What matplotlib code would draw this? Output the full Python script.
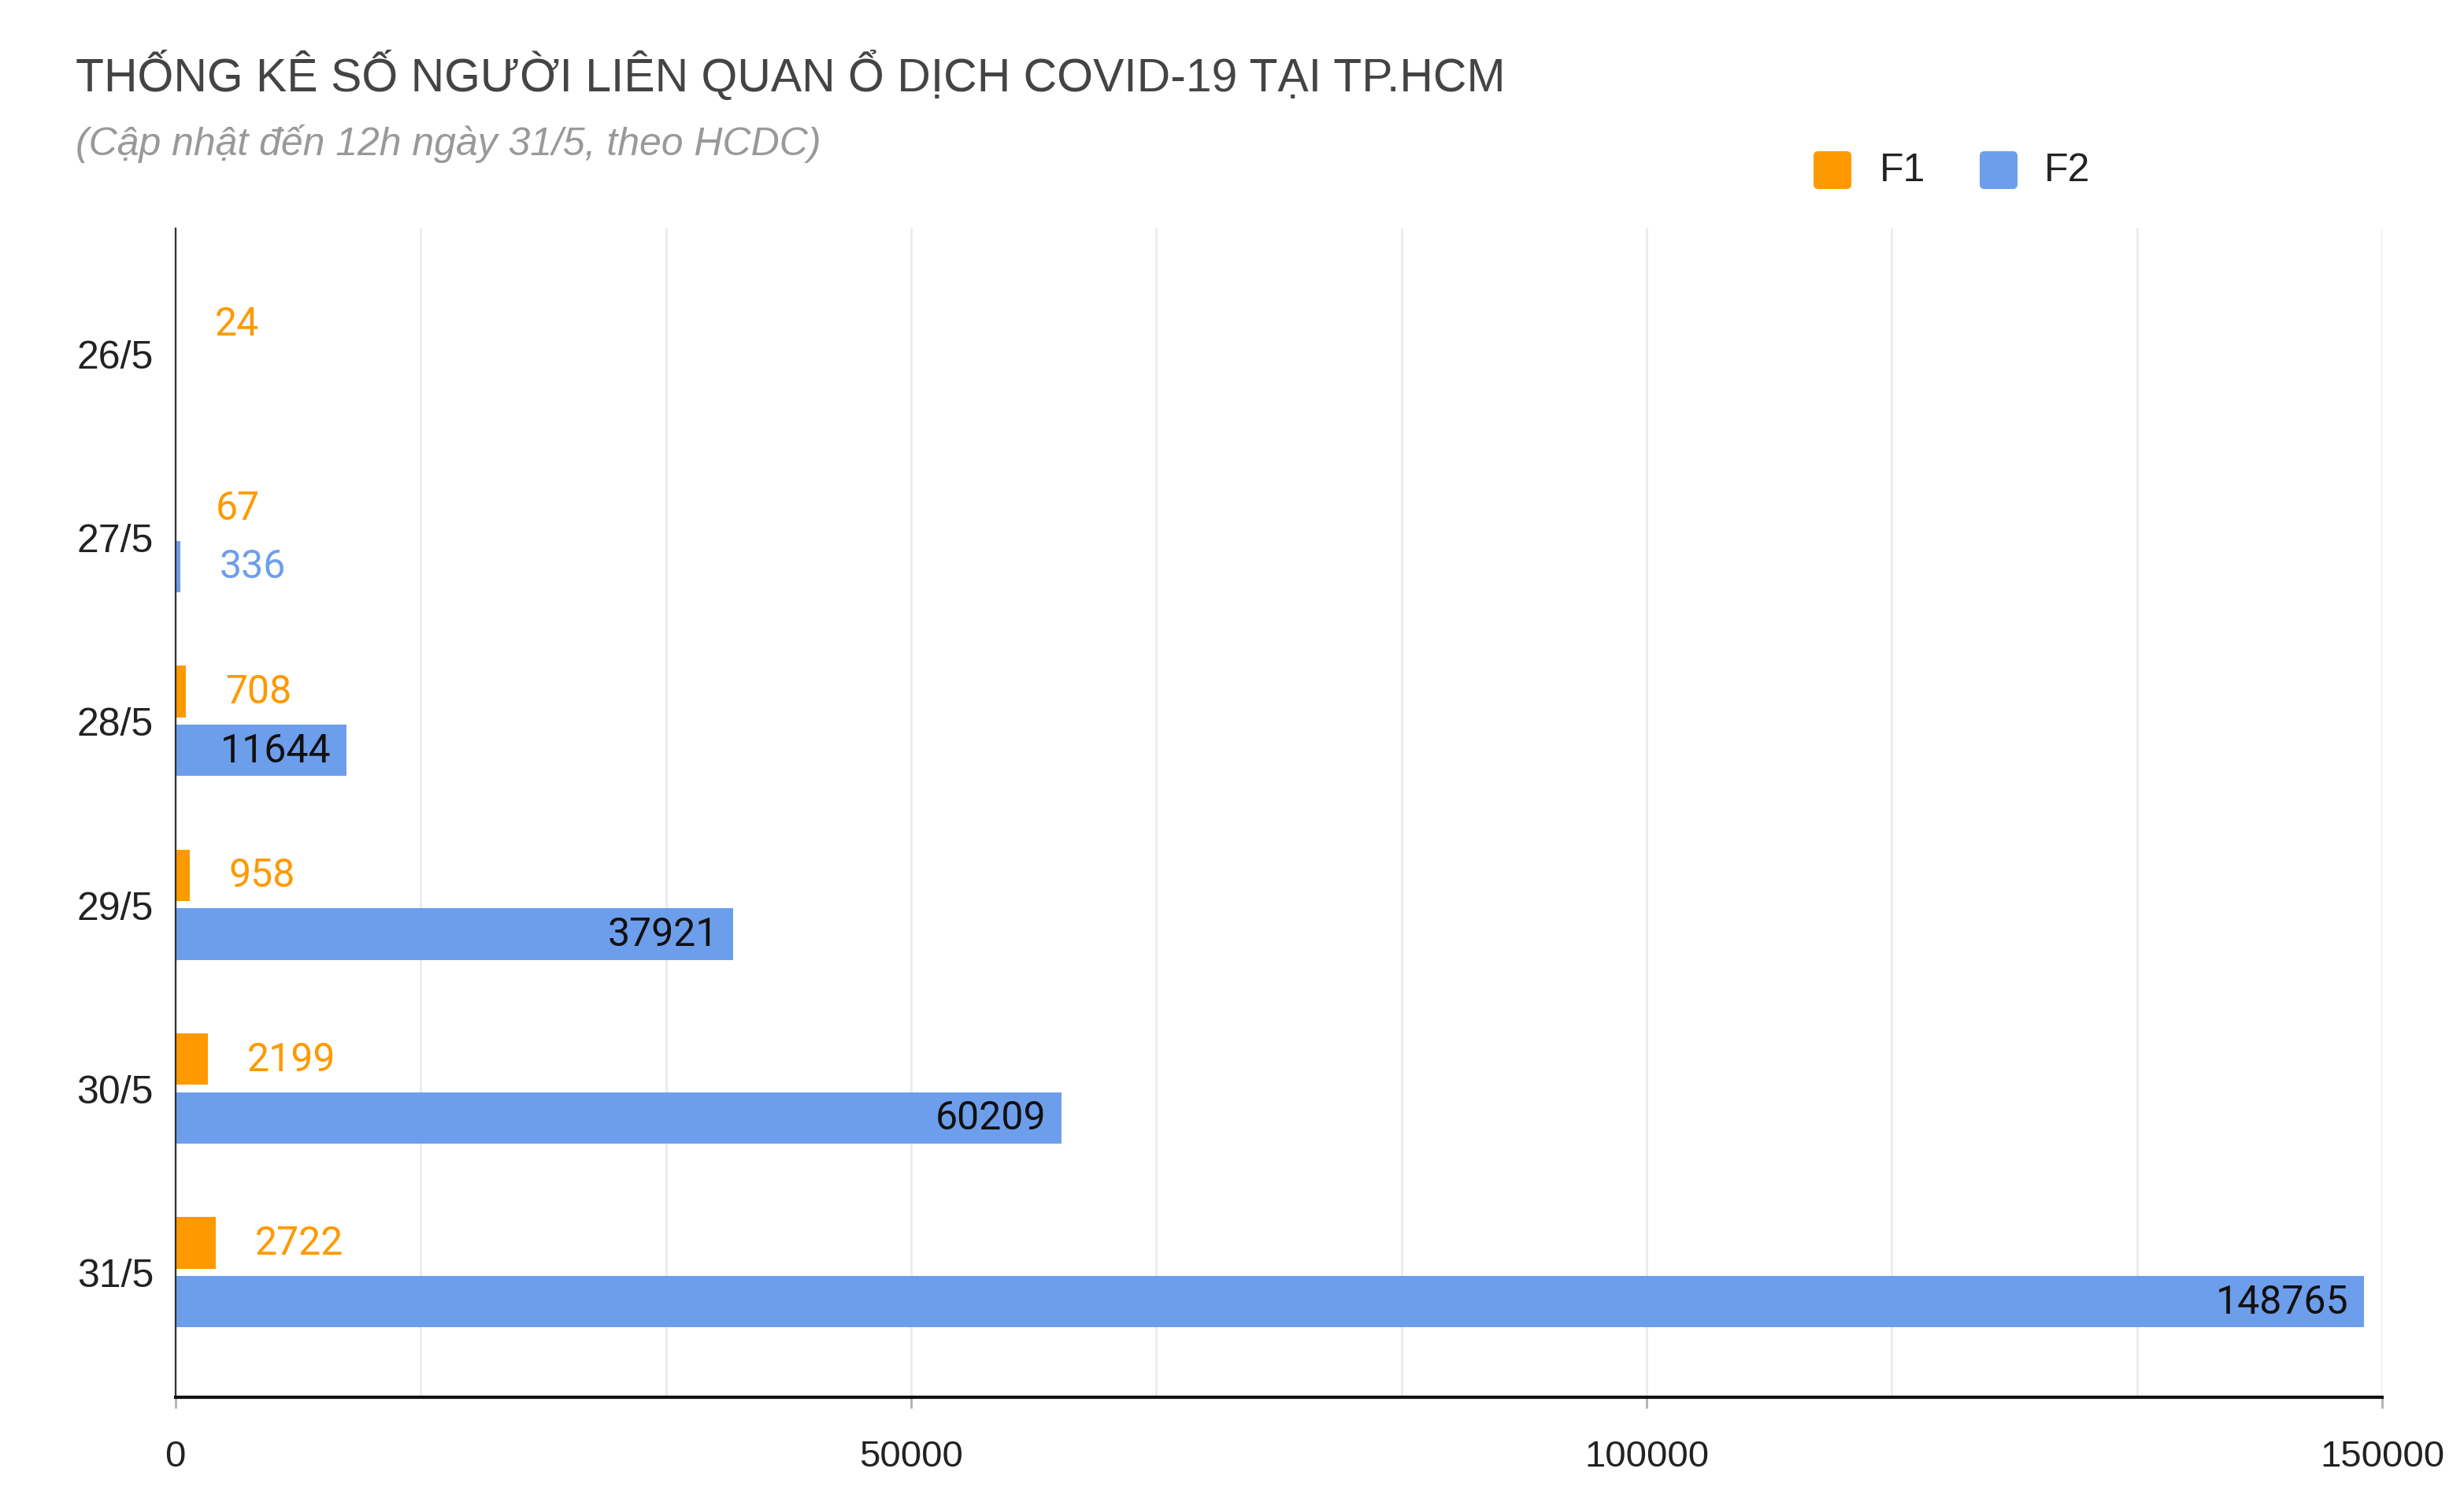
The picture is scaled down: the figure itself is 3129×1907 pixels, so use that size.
import numpy as np
import matplotlib.pyplot as plt
from matplotlib.patches import FancyBboxPatch
from matplotlib.transforms import IdentityTransform
from matplotlib.ticker import MultipleLocator

# Data
days = ['26/5', '27/5', '28/5', '29/5', '30/5', '31/5']
f1_values = [24, 67, 708, 958, 2199, 2722]
f2_values = [np.nan, 336, 11644, 37921, 60209, 148765]
series_names = ['F1', 'F2']

title = 'THỐNG KÊ SỐ NGƯỜI LIÊN QUAN Ổ DỊCH COVID-19 TẠI TP.HCM'
subtitle = '(Cập nhật đến 12h ngày 31/5, theo HCDC)'

ORANGE = '#ff9900'
BLUE = '#6d9eeb'
ARIAL = ['Liberation Sans', 'DejaVu Sans']

plt.rcParams['font.family'] = ARIAL

DPI = 200
fig = plt.figure(figsize=(3129 / DPI, 1908 / DPI), dpi=DPI)
ax = fig.add_axes([0.0712, 0.0697, 0.8956, 0.7778])

y = np.arange(len(days))
h = 0.28
off = 0.16
ax.barh(y - off, f1_values, height=h, color=ORANGE, zorder=3)
ax.barh(y + off, f2_values, height=h, color=BLUE, zorder=3)

ax.set_xlim(0, 150000)
ax.set_ylim(len(days) - 1 + 0.68, -0.68)
ax.set_yticks(y)
ax.set_yticklabels(days)

# grid every 1/3 of a major step
ax.xaxis.set_major_locator(MultipleLocator(50000))
ax.xaxis.set_minor_locator(MultipleLocator(50000 / 3))
ax.grid(axis='x', which='both', color='#ebebeb', linewidth=1.0, zorder=0)
ax.tick_params(axis='x', which='minor', length=0)
ax.tick_params(axis='x', which='major', length=5, width=1, color='#b0b0b0',
               labelsize=17, pad=14, labelcolor='#222222')
ax.tick_params(axis='y', length=0, labelsize=18, pad=10, labelcolor='#222222')

for side in ['top', 'right']:
    ax.spines[side].set_visible(False)
ax.spines['left'].set_color('#333333')
ax.spines['left'].set_linewidth(0.8)
ax.spines['bottom'].set_color('#111111')
ax.spines['bottom'].set_linewidth(1.5)
ax.spines['bottom'].set_zorder(4)
ax.spines['left'].set_zorder(4)

LABEL_FONT = ['Roboto', 'DejaVu Sans']
for i, v in enumerate(f1_values):
    ax.annotate(str(v), (v, i - off), xytext=(18, 0), textcoords='offset points',
                ha='left', va='center', fontsize=18, color=ORANGE,
                family=LABEL_FONT, zorder=5)
for i, v in enumerate(f2_values):
    if np.isnan(v):
        continue
    v = int(v)
    if v > 8000:
        ax.annotate(str(v), (v, i + off), xytext=(-7, 0), textcoords='offset points',
                    ha='right', va='center', fontsize=18, color='#111111',
                    family=LABEL_FONT, zorder=5)
    else:
        ax.annotate(str(v), (v, i + off), xytext=(18, 0), textcoords='offset points',
                    ha='left', va='center', fontsize=18, color=BLUE,
                    family=LABEL_FONT, zorder=5)

fig.text(0.0308, 0.9497, title, fontsize=21.2, color='#444444', ha='left', va='center')
fig.text(0.0308, 0.9043, subtitle, fontsize=18, color='#999999', ha='left',
         va='center', style='italic')

# legend drawn by hand with rounded swatches
sw = 48
for name, color, cx, tx in zip(series_names, [ORANGE, BLUE], [2327, 2538], [2387, 2596]):
    cy = 1908 - 217
    fig.patches.append(FancyBboxPatch((cx - sw / 2 + 4, cy - sw / 2 + 4), sw - 8, sw - 8,
                                      boxstyle='round,pad=4,rounding_size=6',
                                      transform=IdentityTransform(), facecolor=color,
                                      edgecolor='none', figure=fig))
    fig.text(tx / 3129, cy / 1908, name, fontsize=18, color='#222222', ha='left', va='center')

fig.savefig('out.png', dpi=DPI, facecolor='white')
